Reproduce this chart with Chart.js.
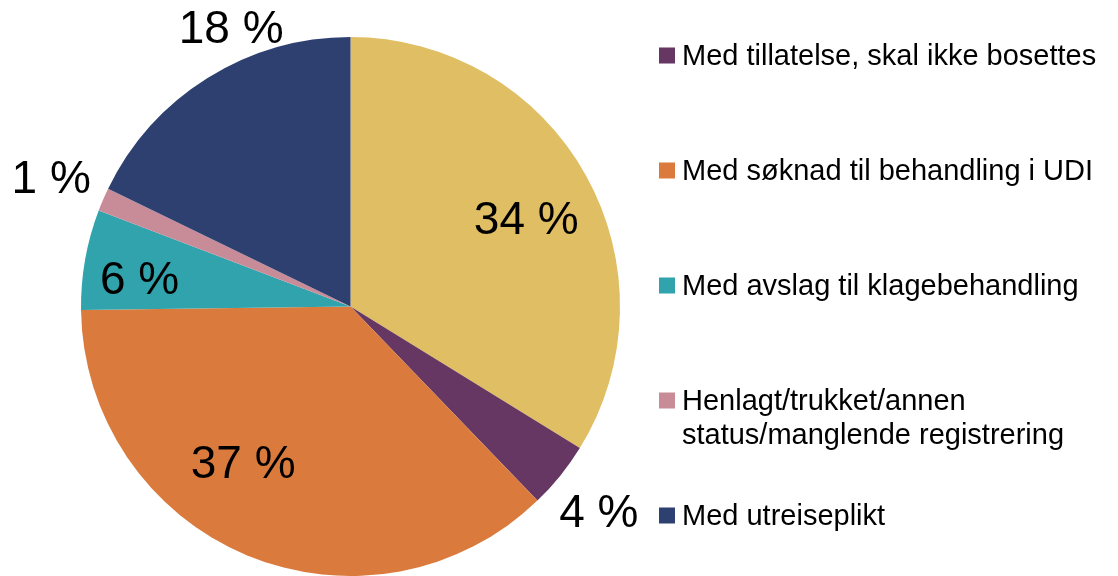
<!DOCTYPE html>
<html>
<head>
<meta charset="utf-8">
<script src="https://cdn.jsdelivr.net/npm/chart.js@4.4.1/dist/chart.umd.min.js"></script>
<style>
  html, body { margin: 0; padding: 0; background: #ffffff; }
  #wrap { width: 1118px; height: 576px; position: relative; }
</style>
</head>
<body>
<div id="wrap"><canvas id="c"></canvas></div>
<script>
// ---- data ----
const categories = [
  'Bosatt',
  'Med tillatelse, skal ikke bosettes',
  'Med søknad til behandling i UDI',
  'Med avslag til klagebehandling',
  'Henlagt/trukket/annen status/manglende registrering',
  'Med utreiseplikt'
];
const shares = [33.8, 4.0, 37.0, 6.0, 1.4, 17.8];
const inLegend = [false, true, true, true, true, true];
const colors = ['#E0BE64', '#653762', '#DA7B3D', '#30A3AC', '#C88C99', '#2E4070'];

// ---- label placement (fraction along slice angle, radius factor) ----
const labelPlacement = [
  { at: 0.52, r: 0.73 },
  { at: 0.534, r: 1.192 },
  { at: 0.59, r: 0.70 },
  { at: 0.39, r: 0.79 },
  { at: 0.50, r: 1.21 },
  { at: 0.64, r: 1.13 }
];

const FONT = '"Liberation Sans", Arial, sans-serif';

const pctLabels = {
  id: 'pctLabels',
  afterDatasetsDraw(chart) {
    const ctx = chart.ctx;
    const meta = chart.getDatasetMeta(0);
    const data = chart.data.datasets[0].data;
    const total = data.reduce((s, v) => s + v, 0);
    const fs = 46;
    ctx.save();
    ctx.font = fs + 'px ' + FONT;
    ctx.fillStyle = '#000000';
    ctx.textAlign = 'center';
    ctx.textBaseline = 'alphabetic';
    meta.data.forEach((arc, i) => {
      const p = labelPlacement[i];
      const a = arc.startAngle + (arc.endAngle - arc.startAngle) * p.at;
      const r = arc.outerRadius * p.r;
      const txt = Math.round(data[i] / total * 100) + ' %';
      ctx.fillText(txt, arc.x + r * Math.cos(a), arc.y + r * Math.sin(a) + fs * 0.358);
    });
    ctx.restore();
  }
};

const sideLegend = {
  id: 'sideLegend',
  afterDraw(chart) {
    const ctx = chart.ctx;
    const x0 = 659, box = 16, textX = 682, firstBase = 65, step = 115, lineH = 34, maxW = 440;
    ctx.save();
    ctx.font = '29px ' + FONT;
    ctx.textBaseline = 'alphabetic';
    ctx.textAlign = 'left';
    let row = 0;
    chart.data.labels.forEach((lab, i) => {
      if (!inLegend[i]) return;
      const base = firstBase + row * step;
      ctx.fillStyle = chart.data.datasets[0].backgroundColor[i];
      ctx.fillRect(x0, base - 9.5 - box / 2, box, box);
      const words = lab.split(' ');
      const lines = [];
      let cur = '';
      words.forEach(w => {
        const t = cur ? cur + ' ' + w : w;
        if (ctx.measureText(t).width > maxW && cur) { lines.push(cur); cur = w; }
        else cur = t;
      });
      if (cur) lines.push(cur);
      ctx.fillStyle = '#000000';
      lines.forEach((ln, k) => ctx.fillText(ln, textX, base + k * lineH));
      row++;
    });
    ctx.restore();
  }
};

new Chart(document.getElementById('c'), {
  type: 'pie',
  data: {
    labels: categories,
    datasets: [{
      data: shares,
      backgroundColor: colors,
      borderWidth: 0
    }]
  },
  options: {
    responsive: true,
    maintainAspectRatio: false,
    animation: false,
    layout: { padding: { left: 81, right: 498, top: 37, bottom: 0 } },
    plugins: {
      legend: { display: false },
      tooltip: { enabled: false }
    }
  },
  plugins: [pctLabels, sideLegend]
});
</script>
</body>
</html>
